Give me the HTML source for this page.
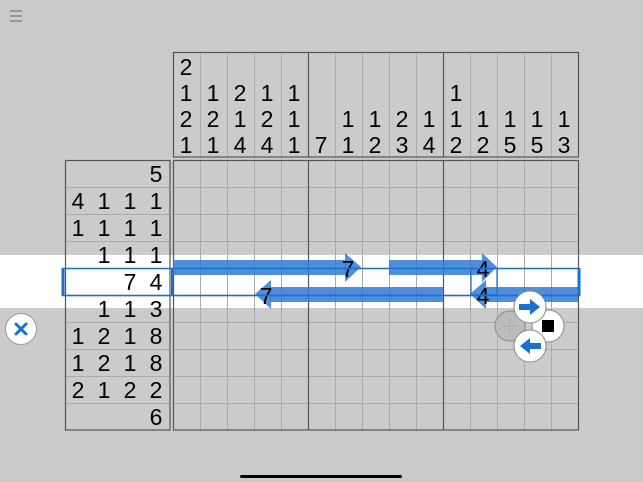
<!DOCTYPE html>
<html><head><style>
html,body{margin:0;padding:0;background:#cbcbcb;}
svg{display:block}
text{font-family:"Liberation Sans",sans-serif;font-size:23px;fill:#000;text-anchor:middle}
</style></head><body>
<svg width="643" height="482" viewBox="0 0 643 482">
<rect width="643" height="482" fill="#cbcbcb"/>
<rect x="0" y="255" width="643" height="53" fill="#fff"/>
<g stroke="#999" stroke-width="2"><line x1="10" y1="11" x2="22" y2="11"/><line x1="10" y1="16" x2="22" y2="16"/><line x1="10" y1="21" x2="22" y2="21"/></g>
<g stroke="#aaa" stroke-width="1">
<line x1="200.5" y1="52" x2="200.5" y2="157"/><line x1="227.5" y1="52" x2="227.5" y2="157"/><line x1="254.5" y1="52" x2="254.5" y2="157"/><line x1="281.5" y1="52" x2="281.5" y2="157"/>
<line x1="335.5" y1="52" x2="335.5" y2="157"/><line x1="362.5" y1="52" x2="362.5" y2="157"/><line x1="389.5" y1="52" x2="389.5" y2="157"/><line x1="416.5" y1="52" x2="416.5" y2="157"/>
<line x1="470.5" y1="52" x2="470.5" y2="157"/><line x1="497.5" y1="52" x2="497.5" y2="157"/><line x1="524.5" y1="52" x2="524.5" y2="157"/><line x1="551.5" y1="52" x2="551.5" y2="157"/>
</g>
<g stroke="#555" stroke-width="1.2" fill="none">
<rect x="173.5" y="52.5" width="405" height="104.5"/>
<line x1="308.5" y1="52" x2="308.5" y2="157"/><line x1="443.5" y1="52" x2="443.5" y2="157"/>
</g>
<g stroke="#aaa" stroke-width="1">
<line x1="65" y1="187.5" x2="170" y2="187.5"/><line x1="65" y1="214.5" x2="170" y2="214.5"/><line x1="65" y1="241.5" x2="170" y2="241.5"/><line x1="65" y1="268.5" x2="170" y2="268.5"/>
<line x1="65" y1="322.5" x2="170" y2="322.5"/><line x1="65" y1="349.5" x2="170" y2="349.5"/><line x1="65" y1="376.5" x2="170" y2="376.5"/><line x1="65" y1="403.5" x2="170" y2="403.5"/>
</g>
<g stroke="#555" stroke-width="1.2" fill="none">
<rect x="65.5" y="160.5" width="104.5" height="269.5"/>
<line x1="65" y1="295.5" x2="170" y2="295.5"/>
</g>
<g stroke="#aaa" stroke-width="1">
<line x1="200.5" y1="160" x2="200.5" y2="430"/><line x1="227.5" y1="160" x2="227.5" y2="430"/><line x1="254.5" y1="160" x2="254.5" y2="430"/><line x1="281.5" y1="160" x2="281.5" y2="430"/>
<line x1="335.5" y1="160" x2="335.5" y2="430"/><line x1="362.5" y1="160" x2="362.5" y2="430"/><line x1="389.5" y1="160" x2="389.5" y2="430"/><line x1="416.5" y1="160" x2="416.5" y2="430"/>
<line x1="470.5" y1="160" x2="470.5" y2="430"/><line x1="497.5" y1="160" x2="497.5" y2="430"/><line x1="524.5" y1="160" x2="524.5" y2="430"/><line x1="551.5" y1="160" x2="551.5" y2="430"/>
<line x1="173" y1="187.5" x2="578" y2="187.5"/><line x1="173" y1="214.5" x2="578" y2="214.5"/><line x1="173" y1="241.5" x2="578" y2="241.5"/><line x1="173" y1="268.5" x2="578" y2="268.5"/>
<line x1="173" y1="322.5" x2="578" y2="322.5"/><line x1="173" y1="349.5" x2="578" y2="349.5"/><line x1="173" y1="376.5" x2="578" y2="376.5"/><line x1="173" y1="403.5" x2="578" y2="403.5"/>
</g>
<g stroke="#555" stroke-width="1.2" fill="none">
<rect x="173.5" y="160.5" width="405" height="269.5"/>
<line x1="308.5" y1="160" x2="308.5" y2="430"/><line x1="443.5" y1="160" x2="443.5" y2="430"/>
<line x1="173" y1="295.5" x2="578" y2="295.5"/>
</g>
<text x="186" y="75">2</text><text x="186" y="101">1</text><text x="186" y="127">2</text><text x="186" y="153">1</text>
<text x="213" y="101">1</text><text x="213" y="127">2</text><text x="213" y="153">1</text>
<text x="240" y="101">2</text><text x="240" y="127">1</text><text x="240" y="153">4</text>
<text x="267" y="101">1</text><text x="267" y="127">2</text><text x="267" y="153">4</text>
<text x="294" y="101">1</text><text x="294" y="127">1</text><text x="294" y="153">1</text>
<text x="321" y="153">7</text>
<text x="348" y="127">1</text><text x="348" y="153">1</text>
<text x="375" y="127">1</text><text x="375" y="153">2</text>
<text x="402" y="127">2</text><text x="402" y="153">3</text>
<text x="429" y="127">1</text><text x="429" y="153">4</text>
<text x="456" y="101">1</text><text x="456" y="127">1</text><text x="456" y="153">2</text>
<text x="483" y="127">1</text><text x="483" y="153">2</text>
<text x="510" y="127">1</text><text x="510" y="153">5</text>
<text x="537" y="127">1</text><text x="537" y="153">5</text>
<text x="564" y="127">1</text><text x="564" y="153">3</text>
<text x="156" y="182">5</text>
<text x="78" y="209">4</text><text x="104" y="209">1</text><text x="130" y="209">1</text><text x="156" y="209">1</text>
<text x="78" y="236">1</text><text x="104" y="236">1</text><text x="130" y="236">1</text><text x="156" y="236">1</text>
<text x="104" y="263">1</text><text x="130" y="263">1</text><text x="156" y="263">1</text>
<text x="130" y="290">7</text><text x="156" y="290">4</text>
<text x="104" y="317">1</text><text x="130" y="317">1</text><text x="156" y="317">3</text>
<text x="78" y="344">1</text><text x="104" y="344">2</text><text x="130" y="344">1</text><text x="156" y="344">8</text>
<text x="78" y="371">1</text><text x="104" y="371">2</text><text x="130" y="371">1</text><text x="156" y="371">8</text>
<text x="78" y="398">2</text><text x="104" y="398">1</text><text x="130" y="398">2</text><text x="156" y="398">2</text>
<text x="156" y="425">6</text>
<g fill="#2f7ad6" fill-opacity="0.85">
<rect x="173" y="260" width="173" height="15"/>
<polygon points="345,253 361,267 345,282"/>
<rect x="389" y="260" width="94" height="15"/>
<polygon points="482,253 497,267 482,282"/>
<rect x="270" y="287" width="173" height="15"/>
<polygon points="271,280 255,294 271,309"/>
<rect x="485" y="287" width="93" height="15"/>
<polygon points="486,280 470,294 486,309"/>
</g>
<text x="348" y="277">7</text><text x="483" y="277">4</text>
<text x="266" y="304">7</text><text x="483" y="304">4</text>
<rect x="62.5" y="268.5" width="517" height="27" fill="none" stroke="#1a6fd0" stroke-width="1.5"/>
<line x1="63" y1="268" x2="63" y2="296" stroke="#1a6fd0" stroke-width="3"/>
<line x1="579" y1="268" x2="579" y2="296" stroke="#1a6fd0" stroke-width="3"/>
<line x1="172" y1="268" x2="172" y2="296" stroke="#1a6fd0" stroke-width="2"/>
<rect x="471" y="268.5" width="26" height="26.5" fill="none" stroke="#1a6fd0" stroke-width="1.2"/>
<circle cx="510" cy="326" r="15" fill="#bbb" stroke="#999" stroke-width="1.5"/>
<g stroke="#8ab" stroke-width="1" stroke-dasharray="2,1"><line x1="503" y1="326" x2="517" y2="326"/><line x1="510" y1="319" x2="510" y2="333"/></g>
<circle cx="548" cy="326" r="16" fill="#fff" stroke="#888" stroke-width="1"/>
<rect x="542" y="320" width="12" height="12" fill="#000"/>
<circle cx="530" cy="307" r="16" fill="#fff" stroke="#888" stroke-width="1"/>
<polygon points="519,304 530,304 530,299 540,307 530,315 530,310 519,310" fill="#1a6fd0"/>
<circle cx="530" cy="346" r="16" fill="#fff" stroke="#888" stroke-width="1"/>
<polygon points="541,343 530,343 530,338 520,346 530,354 530,349 541,349" fill="#1a6fd0"/>
<circle cx="21" cy="329" r="15.5" fill="#fff" stroke="#999" stroke-width="1"/>
<g stroke="#1a6fd0" stroke-width="3" stroke-linecap="round"><line x1="16" y1="324" x2="26" y2="334"/><line x1="26" y1="324" x2="16" y2="334"/></g>
<rect x="240" y="475" width="162" height="3" rx="1.5" fill="#000"/>
</svg>
</body></html>
